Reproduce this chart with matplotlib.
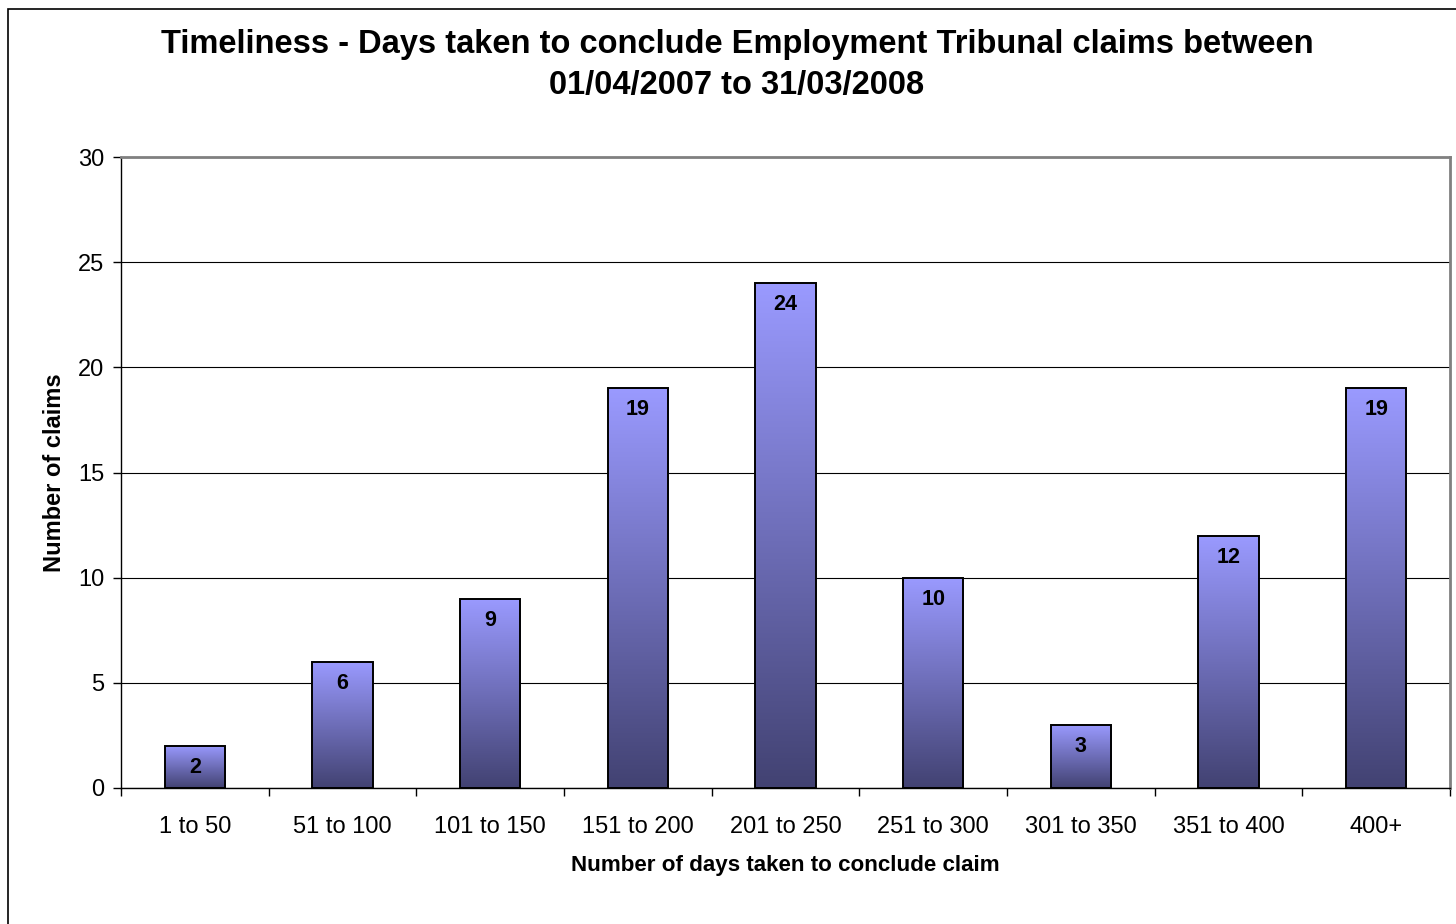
import numpy as np
import matplotlib.pyplot as plt
from matplotlib.colors import LinearSegmentedColormap
from matplotlib.patches import Rectangle

# ----- data -----
CATEGORIES = ['1 to 50', '51 to 100', '101 to 150', '151 to 200', '201 to 250',
              '251 to 300', '301 to 350', '351 to 400', '400+']
CLAIMS = [2, 6, 9, 19, 24, 10, 3, 12, 19]
Y_TICKS = [0, 5, 10, 15, 20, 25, 30]

TITLE = ('Timeliness - Days taken to conclude Employment Tribunal claims between\n'
         '01/04/2007 to 31/03/2008')
XLABEL = 'Number of days taken to conclude claim'
YLABEL = 'Number of claims'

plt.rcParams['font.family'] = ['Liberation Sans', 'DejaVu Sans']

BAR_WIDTH = 0.41
TOP_COLOR = '#9a9aff'
BOTTOM_COLOR = '#424272'
cmap = LinearSegmentedColormap.from_list('bar_grad', [BOTTOM_COLOR, TOP_COLOR])

fig = plt.figure(figsize=(14.56, 9.24), dpi=100)
ax = fig.add_axes([121 / 1456, 1 - 788 / 924, 1329 / 1456, 631 / 924])

# outer chart frame (runs off the right and bottom edges)
fig.patches.append(Rectangle((8 / 1456, -0.1), 1.2, 1.1 - 9 / 924,
                             transform=fig.transFigure, fill=False,
                             edgecolor='black', linewidth=1.2))

x = np.arange(len(CATEGORIES))
bars = ax.bar(x, CLAIMS, width=BAR_WIDTH, facecolor='none',
              edgecolor='black', linewidth=1.4, zorder=4)

grad = np.linspace(0, 1, 256).reshape(-1, 1)
for bar in bars:
    x0, y0 = bar.get_x(), bar.get_y()
    w, h = bar.get_width(), bar.get_height()
    im = ax.imshow(grad, cmap=cmap, origin='lower', aspect='auto',
                   extent=(x0, x0 + w, y0, y0 + h), zorder=3)
    im.set_clip_path(bar)

for xi, v in zip(x, CLAIMS):
    ax.annotate(str(v), (xi, v), xytext=(0, -15.5), textcoords='offset points',
                ha='center', va='center', fontsize=15.5, fontweight='bold',
                zorder=5)

ax.set_xlim(-0.5, len(CATEGORIES) - 0.5)
ax.set_ylim(0, 30)
ax.set_yticks(Y_TICKS)
ax.yaxis.grid(True, color='black', linewidth=0.8)
ax.set_axisbelow(True)

# tick marks at category boundaries, labels at centres
ax.set_xticks(np.arange(-0.5, len(CATEGORIES), 1.0))
ax.set_xticklabels([])
ax.set_xticks(x, minor=True)
ax.set_xticklabels(CATEGORIES, minor=True)
ax.tick_params(axis='x', which='major', length=6, width=1, direction='out')
ax.tick_params(axis='x', which='minor', length=0, pad=20, labelsize=17)
ax.tick_params(axis='y', length=6, width=1, direction='out', pad=6,
               labelsize=17)

for side in ['top', 'right']:
    ax.spines[side].set_color('#808080')
    ax.spines[side].set_linewidth(2)
for side in ['left', 'bottom']:
    ax.spines[side].set_color('black')
    ax.spines[side].set_linewidth(1)

ax.set_xlabel(XLABEL, fontsize=16.1, fontweight='bold')
ax.xaxis.set_label_coords(0.5, (788 - 865) / 631)
ax.xaxis.label.set_va('center')
ax.set_ylabel(YLABEL, fontsize=17, fontweight='bold')
ax.yaxis.set_label_coords((55 - 121) / 1329, (788 - 473) / 631)
ax.yaxis.label.set_va('center')

fig.text(737 / 1456, 1 - 65 / 924, TITLE, ha='center', va='center',
         fontsize=23.5, fontweight='bold', linespacing=1.43)

fig.savefig('out.png', dpi=100)
